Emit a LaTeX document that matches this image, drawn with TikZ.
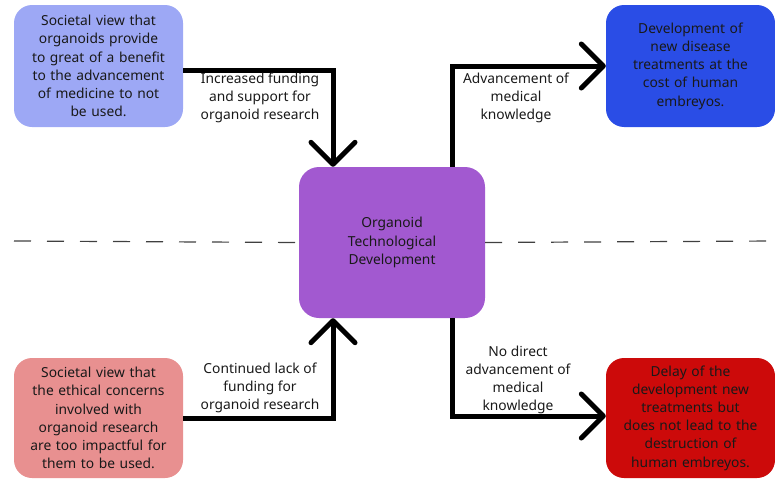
\documentclass[tikz,border=0pt]{standalone}
\usepackage{fontspec}
\setmainfont{Noto Sans}
\usepackage{xcolor}
\usetikzlibrary{arrows.meta}
\definecolor{benefitblue}{HTML}{9DA8F5}
\definecolor{costblue}{HTML}{2A4DE6}
\definecolor{concernred}{HTML}{E89090}
\definecolor{delayred}{HTML}{CC0A0A}
\definecolor{techpurple}{HTML}{A259D0}

\begin{document}
\begin{tikzpicture}[x=1pt,y=-1pt,
  font=\fontsize{13.8}{18.2}\selectfont,
  box/.style={rectangle, rounded corners=18pt, minimum width=169pt, minimum height=122pt,
    text width=165pt, align=center, inner sep=0pt, text=black!90},
  flowarrow/.style={line width=5pt, -{Straight Barb[length=22pt,width=44pt,round]}},
  flowlabel/.style={align=center, inner sep=0pt, text=black!90}]
\useasboundingbox (0,0) rectangle (775,479);
%divider
\coordinate (divl) at (14,241);
\coordinate (divr) at (775,241);
%boxes
\node[box, fill=benefitblue] (benefit) at (98.5,66) {Societal view that\\ organoids provide\\ to great of a benefit\\ to the advancement\\ of medicine to not\\ be used.};
\node[box, fill=costblue] (cost) at (690.5,66) {Development of\\ new disease\\ treatments at the\\ cost of human\\ embreyos.};
\node[box, fill=concernred, minimum height=120pt] (concern) at (98.5,418) {Societal view that\\ the ethical concerns\\ involved with\\ organoid research\\ are too impactful for\\ them to be used.};
\node[box, fill=delayred, minimum height=120pt] (delay) at (690.5,418) {Delay of the\\ development new\\ treatments but\\ does not lead to the\\ destruction of\\ human embreyos.};
\node[box, fill=techpurple, minimum width=186pt, minimum height=151pt, rounded corners=20pt] (tech) at (392,242.5) {Organoid\\ Technological\\ Development};
%divider
\draw[line width=1.2pt, black!75, dash pattern=on 17pt off 16pt] (divl) -- (tech.west);
\draw[line width=1.2pt, black!75, dash pattern=on 17pt off 16pt] (tech.east) -- (divr);
%arrows
\draw[flowarrow] ([yshift=-4pt]benefit.east) -| ([xshift=-59pt]tech.north);
\draw[flowarrow] ([xshift=60pt]tech.north) |- (cost.west);
\draw[flowarrow] (concern.east) -| ([xshift=-59pt]tech.south);
\draw[flowarrow] ([xshift=60pt]tech.south) |- ([yshift=2pt]delay.west);
%labels
\node[flowlabel] (fundup) at (260,98) {Increased funding\\ and support for\\ organoid research};
\node[flowlabel] (knowup) at (516,98) {Advancement of\\ medical\\ knowledge};
\node[flowlabel] (funddown) at (260,388) {Continued lack of\\ funding for\\ organoid research};
\node[flowlabel] (knowdown) at (518,380) {No direct\\ advancement of\\ medical\\ knowledge};
\end{tikzpicture}
\end{document}
